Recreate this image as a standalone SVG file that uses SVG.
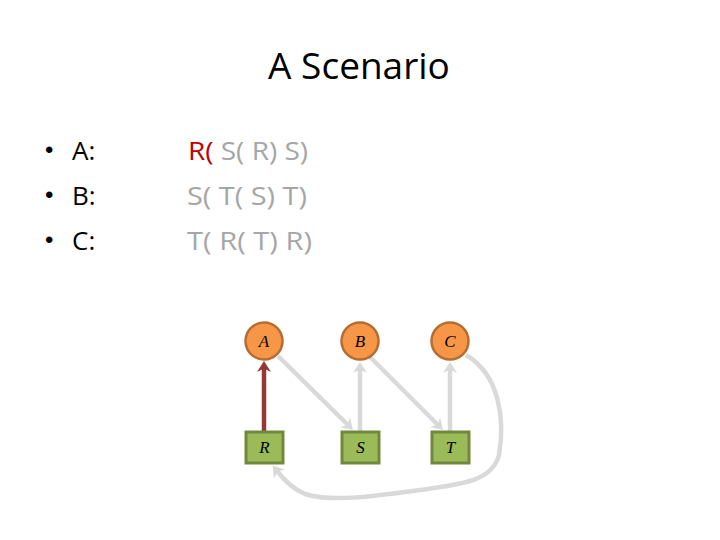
<svg xmlns="http://www.w3.org/2000/svg" width="720" height="540" viewBox="0 0 720 540">
<style>
.t{font-family:"Open Sans","Liberation Sans",sans-serif;}
.title{font-size:37px;fill:#000;}
.b{font-size:26px;fill:#000;}
.bul{font-family:"Liberation Sans",Arial,sans-serif;font-size:24px;fill:#000;}
.g{font-size:26px;fill:#a6a6a6;}
.r{fill:#c00000;}
.circ{fill:#f79646;stroke:#b66d31;stroke-width:2.5;}
.sq{fill:#9bbb59;stroke:#71893f;stroke-width:3;}
.lab{font-family:"Liberation Serif","DejaVu Serif",serif;font-style:italic;font-size:17px;fill:#000;text-anchor:middle;}
.e{fill:none;stroke:#d9d9d9;stroke-width:4.5;}
.er{fill:none;stroke:#953735;stroke-width:4.5;}
</style>
<defs>
<marker id="ag" markerUnits="userSpaceOnUse" markerWidth="12" markerHeight="16" refX="4" refY="8" orient="auto" viewBox="0 0 12 16">
<path d="M0,1 L11,8 L0,15 L3.5,8 z" fill="#d9d9d9"/>
</marker>
<marker id="ar" markerUnits="userSpaceOnUse" markerWidth="12" markerHeight="16" refX="4" refY="8" orient="auto" viewBox="0 0 12 16">
<path d="M0,1 L11,8 L0,15 L3.5,8 z" fill="#953735"/>
</marker>
</defs>
<rect width="720" height="540" fill="#fff"/>
<text class="t title" x="359" y="79" text-anchor="middle">A Scenario</text>
<g id="bullets">
<text class="bul" x="45" y="158">•</text>
<text class="t b" x="72" y="160">A:</text>
<text class="bul" x="45" y="203">•</text>
<text class="t b" x="72" y="205">B:</text>
<text class="bul" x="45" y="248">•</text>
<text class="t b" x="72" y="250">C:</text>
</g>
<g id="sequences">
<text class="t g" x="188" y="160" textLength="120" lengthAdjust="spacingAndGlyphs"><tspan class="r">R(</tspan> S( R) S)</text>
<text class="t g" x="187" y="205" textLength="120" lengthAdjust="spacingAndGlyphs">S( T( S) T)</text>
<text class="t g" x="187" y="250" textLength="125" lengthAdjust="spacingAndGlyphs">T( R( T) R)</text>
</g>
<g id="connectors">
<line class="er" x1="264" y1="431" x2="264" y2="368" marker-end="url(#ar)"/>
<line class="e" x1="278" y1="356" x2="348" y2="425" marker-end="url(#ag)"/>
<line class="e" x1="360" y1="431" x2="360" y2="369" marker-end="url(#ag)"/>
<line class="e" x1="370" y1="357" x2="438" y2="425" marker-end="url(#ag)"/>
<line class="e" x1="450" y1="431" x2="450" y2="369" marker-end="url(#ag)"/>
<path class="e" d="M466,355 C500,375 505,420 499,455 C492,482 460,484 420,490 C370,497 330,502 305,494 C293,489 284,480 277,471" marker-end="url(#ag)"/>
</g>
<g id="node-A"><circle class="circ" cx="264" cy="341" r="18.5"/><text class="lab" x="264" y="347">A</text></g>
<g id="node-B"><circle class="circ" cx="360" cy="341" r="18.5"/><text class="lab" x="360" y="347">B</text></g>
<g id="node-C"><circle class="circ" cx="450" cy="341" r="18.5"/><text class="lab" x="450" y="347">C</text></g>
<g id="node-R"><rect class="sq" x="246" y="432" width="37" height="31"/><text class="lab" x="264.5" y="453">R</text></g>
<g id="node-S"><rect class="sq" x="342" y="432" width="37" height="31"/><text class="lab" x="360.5" y="453">S</text></g>
<g id="node-T"><rect class="sq" x="432" y="432" width="37" height="31"/><text class="lab" x="450.5" y="453">T</text></g>
</svg>
